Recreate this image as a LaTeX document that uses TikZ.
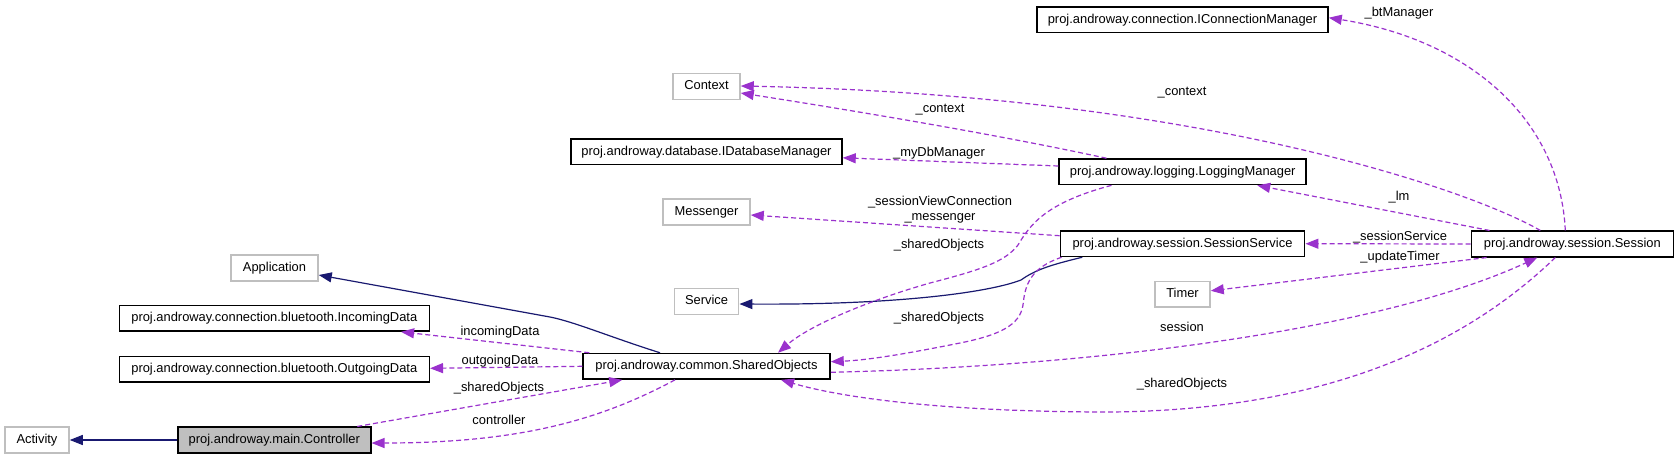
\documentclass[tikz,border=0pt]{standalone}
\usepackage{fontspec}
\setmainfont{Liberation Sans}
\usetikzlibrary{arrows.meta,calc}
\definecolor{dpurple}{HTML}{9A32CD}
\definecolor{dblue}{HTML}{191970}
\definecolor{dgrey}{HTML}{BFBFBF}
\begin{document}
\begin{tikzpicture}[x=1pt,y=-1pt,
  font=\fontsize{12.9}{14.5}\selectfont,
  cls/.style={draw=black,line width=1.5pt,fill=white,inner sep=0pt,minimum height=25.6pt,text height=9.3pt,text depth=2.7pt},
  ext/.style={cls,draw=dgrey},
  use/.style={draw=dpurple,line width=1.2pt,dash pattern=on 5pt off 3pt,-{Triangle[length=13pt,width=10pt,fill=dpurple]}},
  inh/.style={draw=dblue,line width=1.2pt,-{Triangle[length=13pt,width=10pt,fill=dblue]}},
  lbl/.style={inner sep=0pt,anchor=base},
  lbl2/.style={inner sep=0pt,anchor=center,align=center}]
\fill[white] (0,0) rectangle (1680,459);
\useasboundingbox (0,0) rectangle (1680,459);

% nodes
\node[ext,minimum width=64pt] (act) at (37,440) {Activity};
\node[cls,fill=dgrey,minimum width=193pt] (ctrl) at (274.3,440) {proj.androway.main.Controller};
\node[ext,minimum width=87pt] (app) at (274.5,268) {Application};
\node[cls,minimum width=310pt] (inc) at (274.3,318.3) {proj.androway.connection.bluetooth.IncomingData};
\node[cls,minimum width=310pt] (out) at (274.3,369.3) {proj.androway.connection.bluetooth.OutgoingData};
\node[cls,minimum width=247pt] (so) at (706.5,366.3) {proj.androway.common.SharedObjects};
\node[ext,minimum width=67pt] (ctx) at (706.5,86.5) {Context};
\node[cls,minimum width=271pt] (idb) at (706.5,151.8) {proj.androway.database.IDatabaseManager};
\node[ext,minimum width=87pt] (msg) at (706.5,212) {Messenger};
\node[ext,minimum width=64.4pt] (svc) at (706.5,301.5) {Service};
\node[cls,minimum width=291pt] (icm) at (1182.5,19.7) {proj.androway.connection.IConnectionManager};
\node[cls,minimum width=247pt] (lm) at (1182.7,171.8) {proj.androway.logging.LoggingManager};
\node[cls,minimum width=244.4pt] (ss) at (1182.5,243.7) {proj.androway.session.SessionService};
\node[ext,minimum width=55pt] (timer) at (1182.5,294.3) {Timer};
\node[cls,minimum width=202pt] (sess) at (1572.3,244) {proj.androway.session.Session};

% inheritance
\draw[inh] (ctrl.west) -- (act.east);
\draw[inh] ($(so.north)+(-46.5,0)$) .. controls (610,337) and (575,322) .. (550,317) -- ($(app.east)+(0,7)$);
\draw[inh] ($(ss.south west)+(22.7,0)$) .. controls (1050,265) and (1035,270) .. (1021,280) .. controls (990,292) and (900,305) .. ($(svc.east)+(0,2.5)$);

% usage
\draw[use] ($(sess.north)+(-7,0)$) .. controls (1560,120) and (1470,40) .. ($(icm.east)+(0,-2)$);
\draw[use] ($(sess.north)+(-32,0)$) .. controls (1470,190) and (1200,95) .. ($(ctx.east)+(0,-0.5)$);
\draw[use] ($(lm.north west)+(48,0)$) .. controls (1000,135) and (850,110) .. ($(ctx.east)+(0,6.5)$);
\draw[use] ($(lm.west)+(0,-5.8)$) -- ($(idb.east)+(0,6)$);
\draw[use] ($(ss.west)+(0,-8)$) -- ($(msg.east)+(0,3)$);
\draw[use] ($(lm.south west)+(53,0)$) .. controls (1045,203) and (1030,225) .. (1018,245) .. controls (1005,262) and (980,270) .. (930,283) .. controls (870,300) and (810,325) .. ($(so.north)+(71.5,0)$);
\draw[use] ($(ss.south west)+(2,0)$) .. controls (1030,268) and (1025,285) .. (1023,305) .. controls (1020,325) and (1000,335) .. (960,343) .. controls (910,353) and (870,360) .. ($(so.east)+(0,-4.6)$);
\draw[use] ($(sess.north west)+(19,0)$) -- ($(lm.south)+(74.5,0)$);
\draw[use] (sess.west) -- (ss.east);
\draw[use] ($(sess.south west)+(16,0)$) -- ($(timer.east)+(0,-3.5)$);
\draw[use] ($(so.east)+(0,6)$) .. controls (1100,366) and (1380,330) .. ($(sess.south)+(-35,0)$);
\draw[use] ($(sess.south)+(-17,0)$) .. controls (1480,330) and (1350,410) .. (1110,412) .. controls (960,412) and (850,400) .. ($(so.south)+(74.5,0)$);
\draw[use] ($(so.north west)+(7,0)$) -- ($(inc.south east)+(-29,0)$);
\draw[use] (so.west) -- ($(out.east)+(0,-1)$);
\draw[use] ($(ctrl.north east)+(-14.3,0)$) -- ($(so.south west)+(40,0)$);
\draw[use] ($(so.south)+(-31.5,0)$) .. controls (600,420) and (520,443) .. ($(ctrl.east)+(0,3)$);

% labels
\node[lbl] (lbt) at (1399,16.3) {\_btManager};
\node[lbl] (lcx1) at (1182,95) {\_context};
\node[lbl] (lcx2) at (940,112) {\_context};
\node[lbl] (ldb) at (939,156) {\_myDbManager};
\node[lbl2] (lmsg) at (940,209.5) {\_sessionViewConnection\\\_messenger};
\node[lbl] (lso1) at (939,248.6) {\_sharedObjects};
\node[lbl] (llm) at (1399,200.6) {\_lm};
\node[lbl] (lss) at (1400,240.3) {\_sessionService};
\node[lbl] (ltm) at (1400,260.6) {\_updateTimer};
\node[lbl] (lso2) at (939,321.3) {\_sharedObjects};
\node[lbl] (lses) at (1182,331.3) {session};
\node[lbl] (lso3) at (1182,387.3) {\_sharedObjects};
\node[lbl] (linc) at (500,335.3) {incomingData};
\node[lbl] (lout) at (500,364) {outgoingData};
\node[lbl] (lso4) at (499,391.3) {\_sharedObjects};
\node[lbl] (lctl) at (499,424.6) {controller};
\end{tikzpicture}
\end{document}
